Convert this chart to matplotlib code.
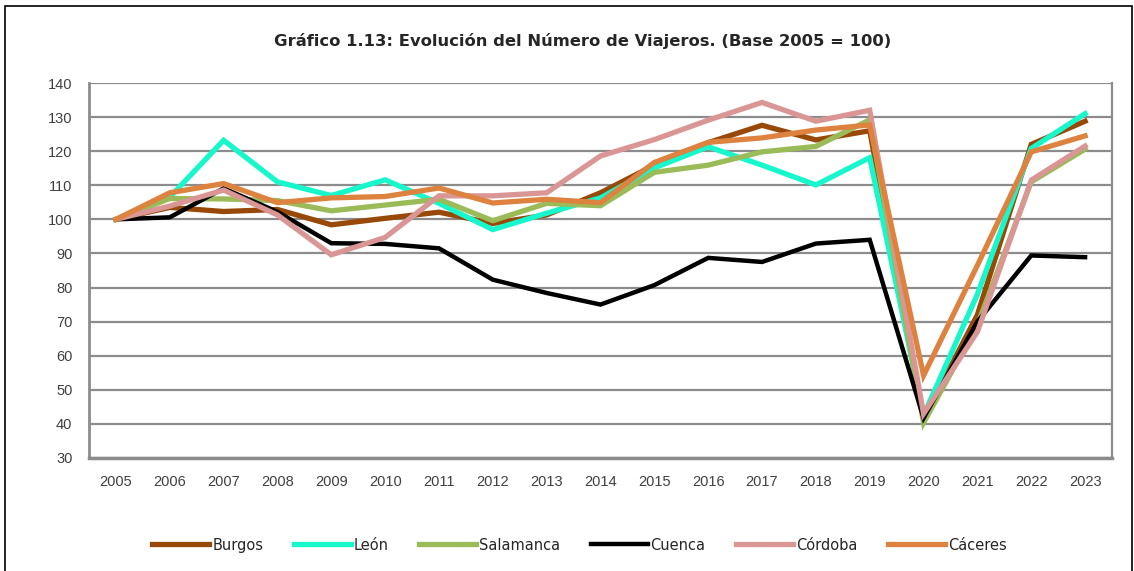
import matplotlib
matplotlib.use('Agg')
import matplotlib.pyplot as plt
import matplotlib.patches as patches

# datos (base 2005 = 100)
years = [str(y) for y in range(2005, 2024)]
burgos = [100, 103.5, 102.3, 102.9, 98.4, 100.3, 102.1, 98.8, 101.3, 107.8,
          115.9, 122.5, 127.6, 123.3, 126.0, 41.5, 72.0, 122.0, 128.8]
leon = [100, 106.5, 123.2, 111.0, 107.0, 111.6, 104.7, 97.0, 101.8, 106.3,
        115.1, 121.3, 115.9, 110.1, 118.1, 42.5, 78.0, 120.8, 131.0]
salamanca = [100, 106.1, 106.0, 105.5, 102.5, 104.2, 105.9, 99.6, 104.7, 104.0,
             113.8, 115.9, 119.8, 121.4, 129.2, 40.3, 69.0, 111.0, 120.6]
cuenca = [100, 100.6, 109.1, 102.2, 93.0, 92.8, 91.5, 82.3, 78.4, 75.0,
          80.7, 88.7, 87.5, 92.9, 94.0, 41.7, 70.0, 89.4, 88.9]
cordoba = [100, 103.9, 108.6, 101.3, 89.6, 94.7, 106.9, 106.9, 107.8, 118.6,
           123.4, 129.1, 134.3, 128.8, 132.0, 43.0, 67.0, 111.5, 121.5]
caceres = [100, 107.8, 110.5, 104.9, 106.3, 106.7, 109.2, 104.8, 105.9, 104.9,
           116.7, 122.6, 123.9, 126.2, 127.7, 54.2, 86.5, 119.8, 124.5]

series = [
    ('Burgos', burgos, '#984807'),
    ('León', leon, '#16F7CB'),
    ('Salamanca', salamanca, '#9BBB59'),
    ('Cuenca', cuenca, '#000000'),
    ('Córdoba', cordoba, '#D99694'),
    ('Cáceres', caceres, '#DE8240'),
]

fig = plt.figure(figsize=(11.34, 5.71), dpi=100)
ax = fig.add_axes([0.0785, 0.198, 0.9021, 0.6566])

x = list(range(len(years)))
for name, vals, col in series:
    lw = 3.2 if name == 'Cuenca' else 3.8
    ax.plot(x, vals, color=col, lw=lw, label=name, solid_joinstyle='miter')

ax.set_xlim(-0.5, len(years) - 0.5)
ax.set_ylim(30, 140)
ax.set_yticks(range(30, 141, 10))
ax.set_xticks(x)
ax.set_xticklabels(years)
ax.tick_params(length=0, labelsize=10.5, labelcolor='#404040', pad=12)
for lab in ax.get_xticklabels() + ax.get_yticklabels():
    lab.set_family('Liberation Sans')
ax.grid(axis='y', color='#8C8C8C', lw=1.6)
ax.set_axisbelow(True)
for s in ax.spines.values():
    s.set_color('#8C8C8C')
    s.set_linewidth(1.6)
ax.spines['top'].set_visible(False)
ax.spines['left'].set_linewidth(2)
ax.spines['bottom'].set_linewidth(2.5)

fig.text(0.514, 0.928, 'Gráfico 1.13: Evolución del Número de Viajeros. (Base 2005 = 100)',
         ha='center', va='center', fontsize=11.8, fontweight='bold', color='#262626')

fig.legend(loc='center', bbox_to_anchor=(0.511, 0.0455), ncol=6, frameon=False,
           fontsize=10.5, handlelength=3.9, handletextpad=0.2, columnspacing=2.1,
           labelcolor='#262626')

# marco exterior
fig.patches.append(patches.Rectangle((0.004, -0.02), 0.994, 1.01, transform=fig.transFigure,
                                     fill=False, edgecolor='#000000', lw=1.2))

fig.savefig('out.png', dpi=100)
